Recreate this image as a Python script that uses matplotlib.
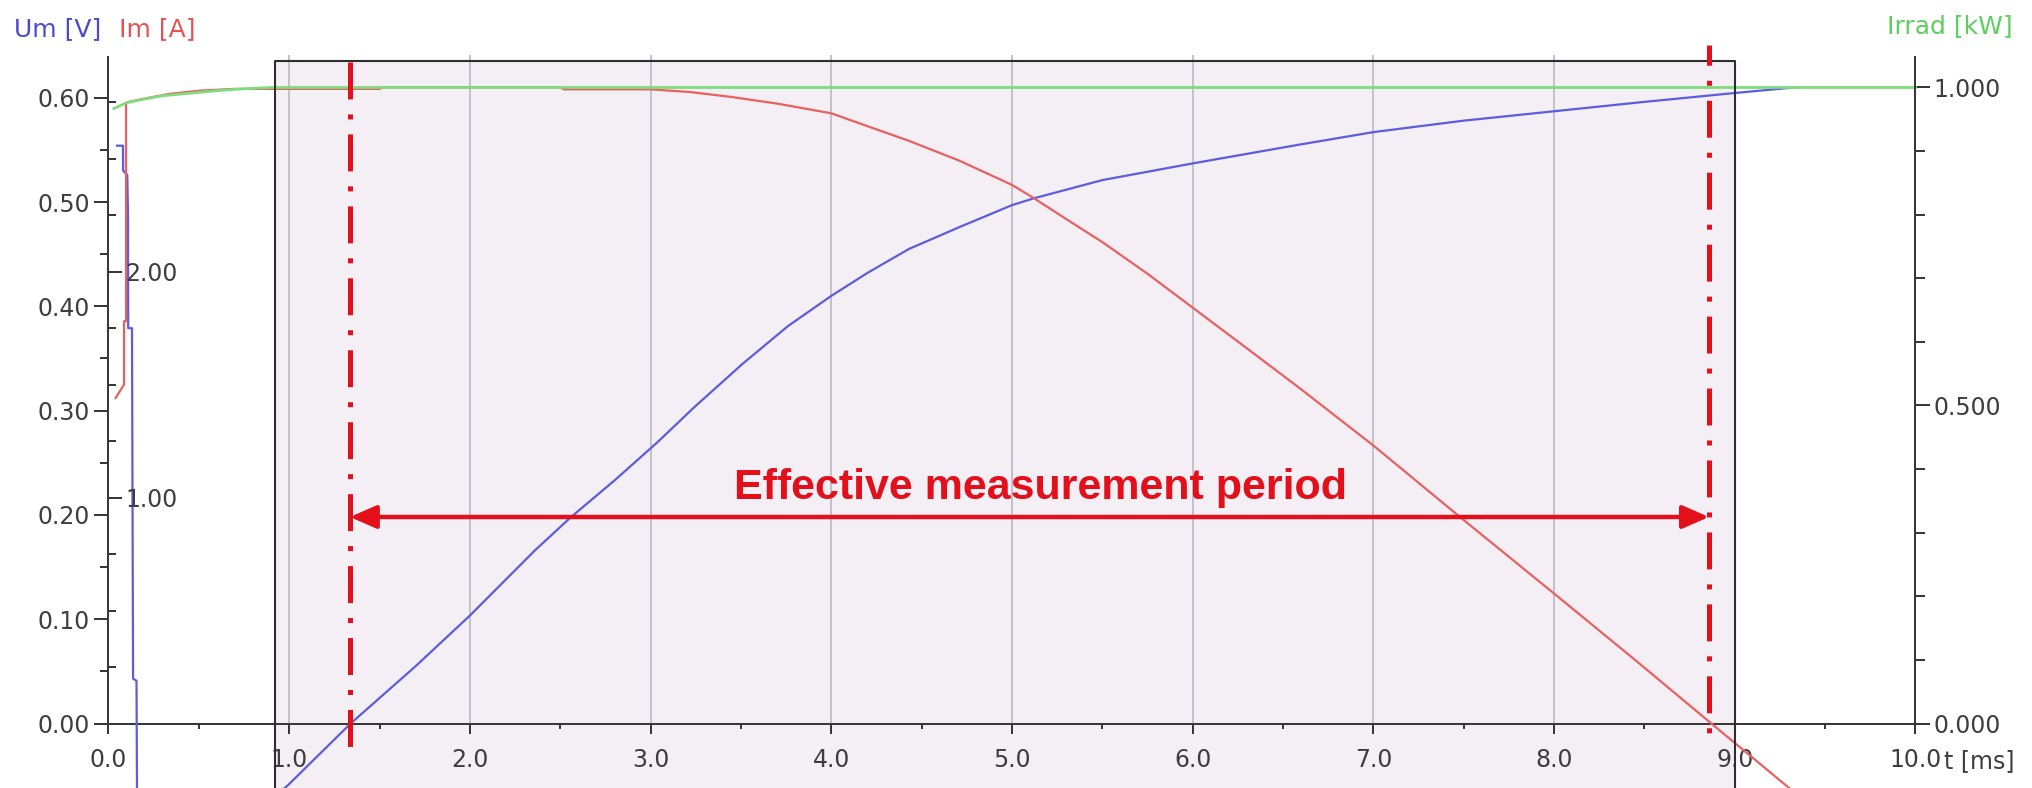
import numpy as np
import matplotlib
matplotlib.use("Agg")
import matplotlib.pyplot as plt
from matplotlib.patches import Rectangle, FancyArrowPatch, ArrowStyle
from matplotlib.ticker import FixedLocator, FormatStrFormatter

plt.rcParams["lines.scale_dashes"] = False
plt.rcParams["font.family"] = ["DejaVu Sans"]

# ---------------- measured curves ----------------
# Module voltage Um [V]
t_um = [0.047, 0.080, 0.081, 0.104, 0.108, 0.109, 0.130, 0.136, 0.155, 0.158, 0.170,
        0.93, 1.00, 1.34, 1.70, 2.00, 2.36, 2.56, 2.80, 3.04, 3.24, 3.51, 3.76,
        4.00, 4.20, 4.43, 4.71, 5.00, 5.12, 5.50, 6.00, 6.59, 7.00, 7.50, 8.00,
        8.50, 9.00, 9.34]
um = [0.554, 0.554, 0.530, 0.526, 0.487, 0.379, 0.379, 0.043, 0.041, -0.075, -0.085,
      -0.069, -0.058, 0.000, 0.055, 0.1035, 0.166, 0.198, 0.233, 0.270, 0.303, 0.345, 0.381,
      0.410, 0.432, 0.455, 0.476, 0.497, 0.5035, 0.521, 0.537, 0.555, 0.567, 0.578, 0.587,
      0.596, 0.6045, 0.610]

# Module current Im [A]
t_im = [0.039, 0.086, 0.086, 0.097, 0.097, 0.108, 0.20, 0.33, 0.50, 0.69, 0.90, 1.50,
        1.52, 2.50, 2.52, 3.00, 3.22, 3.45, 3.70, 4.00, 4.20, 4.43, 4.71, 5.00, 5.12,
        5.30, 5.50, 5.75, 6.00, 6.30, 6.59, 7.00, 7.50, 8.00, 8.45, 8.87, 9.30, 9.40]
im = [1.44, 1.50, 1.78, 1.78, 2.74, 2.750, 2.765, 2.785, 2.800, 2.808, 2.808, 2.808,
      2.815, 2.815, 2.806, 2.806, 2.794, 2.772, 2.743, 2.700, 2.643, 2.578, 2.490, 2.383, 2.325,
      2.232, 2.130, 1.990, 1.840, 1.660, 1.485, 1.230, 0.900, 0.575, 0.280, 0.0, -0.285, -0.35]

# Irradiance [kW]
t_irr = [0.03, 0.10, 0.20, 0.30, 0.45, 0.60, 0.75, 0.90, 10.0]
irr = [0.967, 0.976, 0.982, 0.987, 0.991, 0.995, 0.998, 1.000, 1.000]

# ---------------- axes ticks / annotations ----------------
x_major = [0, 1, 2, 3, 4, 5, 6, 7, 8, 9, 10]
x_minor = [0.5, 1.5, 2.5, 3.5, 4.5, 5.5, 6.5, 7.5, 8.5, 9.5]
um_major = [0.0, 0.1, 0.2, 0.3, 0.4, 0.5, 0.6]
um_minor = [0.05, 0.15, 0.25, 0.35, 0.45, 0.55]
im_major = [1.0, 2.0]
im_minor = [0.25, 0.5, 0.75, 1.25, 1.5, 1.75, 2.25, 2.5, 2.75]
irr_major = [0.0, 0.5, 1.0]
irr_minor = [0.1, 0.2, 0.3, 0.4, 0.6, 0.7, 0.8, 0.9]
grid_t = [1, 2, 3, 4, 5, 6, 7, 8]

t_start = 1.336     # Um = 0 (short circuit)
t_end = 8.857       # Im = 0 (open circuit)
window_t = (0.921, 9.0)
label_text = "Effective measurement period"

# ---------------- layout (pixel geometry) ----------------
W, H, DPI = 2033, 788, 100
X0, PX_MS = 108.5, 180.7          # t = 0 position, pixels per ms
Y0 = 723.5                        # zero line, pixels from top
PX_V, PX_A, PX_KW = 1043.0, 226.0, 636.0

def ylim_for(scale):
    return (-(H - Y0) / scale, Y0 / scale)

def px2um(y_px):
    return (Y0 - y_px) / PX_V

fig = plt.figure(figsize=(W / DPI, H / DPI), dpi=DPI)
ax = fig.add_axes([0, 0, 1, 1])
ax.set_xlim(-X0 / PX_MS, (W - X0) / PX_MS)
ax.set_ylim(*ylim_for(PX_V))
ax.patch.set_facecolor("white")

SPINE = "#383838"
LABEL = "#3e3e3e"
FS = 17

for s in ("top", "right"):
    ax.spines[s].set_visible(False)
ax.spines["left"].set_position(("data", 0))
ax.spines["bottom"].set_position(("data", 0))
ax.spines["left"].set_bounds(0, px2um(57))
ax.spines["bottom"].set_bounds(0, 10)
for s in ("left", "bottom"):
    ax.spines[s].set_color(SPINE)
    ax.spines[s].set_linewidth(1.44)

ax.xaxis.set_major_locator(FixedLocator(x_major))
ax.xaxis.set_minor_locator(FixedLocator(x_minor))
ax.xaxis.set_major_formatter(FormatStrFormatter("%.1f"))
ax.yaxis.set_major_locator(FixedLocator(um_major))
ax.yaxis.set_minor_locator(FixedLocator(um_minor))
ax.yaxis.set_major_formatter(FormatStrFormatter("%.2f"))
ax.tick_params(axis="x", which="major", direction="out", length=7.2, width=1.44,
               color=SPINE, labelsize=FS, labelcolor=LABEL, pad=10.5)
ax.tick_params(axis="x", which="minor", direction="out", length=3.6, width=1.44, color=SPINE)
ax.tick_params(axis="y", which="major", direction="out", length=10, width=1.44,
               color=SPINE, labelsize=FS, labelcolor=LABEL, pad=3.4)
ax.tick_params(axis="y", which="minor", direction="out", length=5.8, width=1.44, color=SPINE)

# shaded evaluation window and its grid
ax.add_patch(Rectangle((window_t[0], -0.3), window_t[1] - window_t[0], px2um(61) + 0.3,
                       facecolor="#f3eff5", edgecolor="none", zorder=0.3))
ax.vlines(grid_t, 0, px2um(55), color="#c2c0ca", lw=1.4, zorder=0.8)

# voltage
ax.plot(t_um, um, color="#5c5ce0", lw=1.6, zorder=3)

# current axis on the same left spine, ticks pointing inward
ax_im = ax.twinx()
ax_im.set_ylim(*ylim_for(PX_A))
for s in ("left", "top", "bottom"):
    ax_im.spines[s].set_visible(False)
ax_im.spines["right"].set_position(("data", 0))
ax_im.spines["right"].set_bounds(0, 2.75)
ax_im.spines["right"].set_color(SPINE)
ax_im.spines["right"].set_linewidth(1.44)
ax_im.yaxis.set_major_locator(FixedLocator(im_major))
ax_im.yaxis.set_minor_locator(FixedLocator(im_minor))
ax_im.yaxis.set_major_formatter(FormatStrFormatter("%.2f"))
ax_im.tick_params(axis="y", which="major", direction="out", length=10, width=1.44,
                  color=SPINE, labelsize=FS, labelcolor=LABEL, pad=2)
ax_im.tick_params(axis="y", which="minor", direction="out", length=5.8, width=1.44, color=SPINE)
ax_im.plot(t_im, im, color="#ea6060", lw=1.6, zorder=2)

# irradiance axis on the right
ax_ir = ax.twinx()
ax_ir.set_ylim(*ylim_for(PX_KW))
for s in ("left", "top", "bottom"):
    ax_ir.spines[s].set_visible(False)
ax_ir.spines["right"].set_position(("data", 10))
ax_ir.spines["right"].set_bounds(0, (Y0 - 57) / PX_KW)
ax_ir.spines["right"].set_color(SPINE)
ax_ir.spines["right"].set_linewidth(1.44)
ax_ir.yaxis.set_major_locator(FixedLocator(irr_major))
ax_ir.yaxis.set_minor_locator(FixedLocator(irr_minor))
ax_ir.yaxis.set_major_formatter(FormatStrFormatter("%.3f"))
ax_ir.tick_params(axis="y", which="major", direction="out", length=10.8, width=1.44,
                  color=SPINE, labelsize=FS, labelcolor=LABEL, pad=2)
ax_ir.tick_params(axis="y", which="minor", direction="out", length=7.2, width=1.44, color=SPINE)
ax_ir.plot(t_irr, irr, color="#7ddd7d", lw=2.0, zorder=2)

# window frame
ax_ir.plot([window_t[0], window_t[0], window_t[1], window_t[1]],
           [-0.3, px2um(61), px2um(61), -0.3], transform=ax.transData,
           color="#2e2e2e", lw=1.5, zorder=3)

# markers of the effective period
RED = "#e3101c"
ax_ir.plot([t_start, t_start], [px2um(62), px2um(757)], transform=ax.transData,
           color=RED, lw=3.6, linestyle=(0, (26.6, 10.8, 3.6, 10.8)), zorder=4)
ax_ir.plot([t_end, t_end], [px2um(45), px2um(740)], transform=ax.transData,
           color=RED, lw=3.6, linestyle=(12, (26.6, 10.8, 3.6, 10.8)), zorder=4)

arrow_y = px2um(517)
arr = FancyArrowPatch((t_start, arrow_y), (t_end, arrow_y),
                      arrowstyle=ArrowStyle("<|-|>", head_length=16, head_width=7),
                      mutation_scale=1, shrinkA=0, shrinkB=0, lw=3.2,
                      color=RED, transform=ax.transData, zorder=4)
ax_ir.add_patch(arr)
ax_ir.text((t_start + t_end) / 2 + 0.06, px2um(499), label_text, transform=ax.transData,
           ha="center", va="baseline", fontsize=31, fontweight="bold",
           family=["Liberation Sans", "DejaVu Sans"], color=RED, zorder=5)

for a in (ax, ax_im, ax_ir):
    a.set_xlim(-X0 / PX_MS, (W - X0) / PX_MS)
ax.set_ylim(*ylim_for(PX_V))
ax_im.set_ylim(*ylim_for(PX_A))
ax_ir.set_ylim(*ylim_for(PX_KW))

# axis titles
fig.text(14 / W, 1 - 29 / H, "Um [V]", color="#4b4bd0", fontsize=18, ha="left", va="center")
fig.text(119 / W, 1 - 29 / H, "Im [A]", color="#e65252", fontsize=18, ha="left", va="center")
fig.text(2013 / W, 1 - 26 / H, "Irrad [kW]", color="#5ccf5c", fontsize=18, ha="right", va="center")
fig.text(1944 / W, 1 - 749 / H, "t [ms]", color=LABEL, fontsize=FS, ha="left", va="top")

fig.savefig("out.png", dpi=DPI)
